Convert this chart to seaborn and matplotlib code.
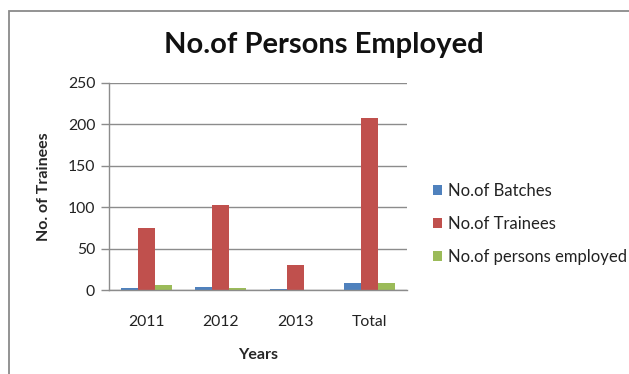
import matplotlib
matplotlib.use("Agg")
import matplotlib.pyplot as plt
from matplotlib.patches import Rectangle
import pandas as pd
import seaborn as sns

years = ["2011", "2012", "2013", "Total"]
series_names = ["No.of Batches", "No.of Trainees", "No.of persons employed"]
batches = [3, 4, 1, 8]
trainees = [75, 103, 30, 208]
employed = [6, 2, 0, 8]
colors = ["#4F81BD", "#C0504D", "#9BBB59"]
y_ticks = [0, 50, 100, 150, 200, 250]

rows = []
for name, vals in zip(series_names, [batches, trainees, employed]):
    for yr, v in zip(years, vals):
        rows.append({"Year": yr, "Series": name, "Value": v})
df = pd.DataFrame(rows)

sns.set_theme(style="white")
plt.rcParams["font.family"] = ["Lato", "DejaVu Sans"]

fig = plt.figure(figsize=(6.29, 3.74), dpi=100)
ax = fig.add_axes([109 / 629, 1 - 290 / 374, 298 / 629, 207 / 374])

sns.barplot(data=df, x="Year", y="Value", hue="Series", palette=colors,
            width=0.685, saturation=1, ax=ax, edgecolor="none", legend=True)

ax.set_ylim(0, 250)
ax.set_yticks(y_ticks)
ax.yaxis.grid(True, color="#8c8c8c", linewidth=1)
ax.set_axisbelow(True)
for side in ["top", "right"]:
    ax.spines[side].set_visible(False)
for side in ["left", "bottom"]:
    ax.spines[side].set_color("#8c8c8c")
    ax.spines[side].set_linewidth(1)
ax.tick_params(axis="y", which="major", left=True, length=6, width=1,
               color="#8c8c8c", labelsize=11.3, labelcolor="#222222", pad=4)
ax.tick_params(axis="x", bottom=False, labelsize=11.3, labelcolor="#222222", pad=12)

ax.set_xlabel("Years", fontsize=11.5, fontweight="bold", labelpad=14)
ax.set_ylabel("No. of Trainees", fontsize=11.5, fontweight="bold", labelpad=12)

handles, labels = ax.get_legend_handles_labels()
ax.legend_.remove()
fig.legend(handles, labels, loc="center left", bbox_to_anchor=(433 / 629, 1 - 224 / 374),
           frameon=False, fontsize=12, handlelength=0.55, handleheight=0.55,
           handletextpad=0.35, labelspacing=1.0, labelcolor="#222222",
           borderaxespad=0, borderpad=0)

fig.text(324 / 629, 1 - 45 / 374, "No.of Persons Employed", ha="center", va="center",
         fontsize=21, fontweight="bold", color="#111111")

fig.patches.append(Rectangle((9 / 629, -0.1), 1.2, 1 - 11 / 374 + 0.1,
                             transform=fig.transFigure, fill=False,
                             edgecolor="#8a8a8a", linewidth=1.3))

fig.savefig("out.png", dpi=100)
